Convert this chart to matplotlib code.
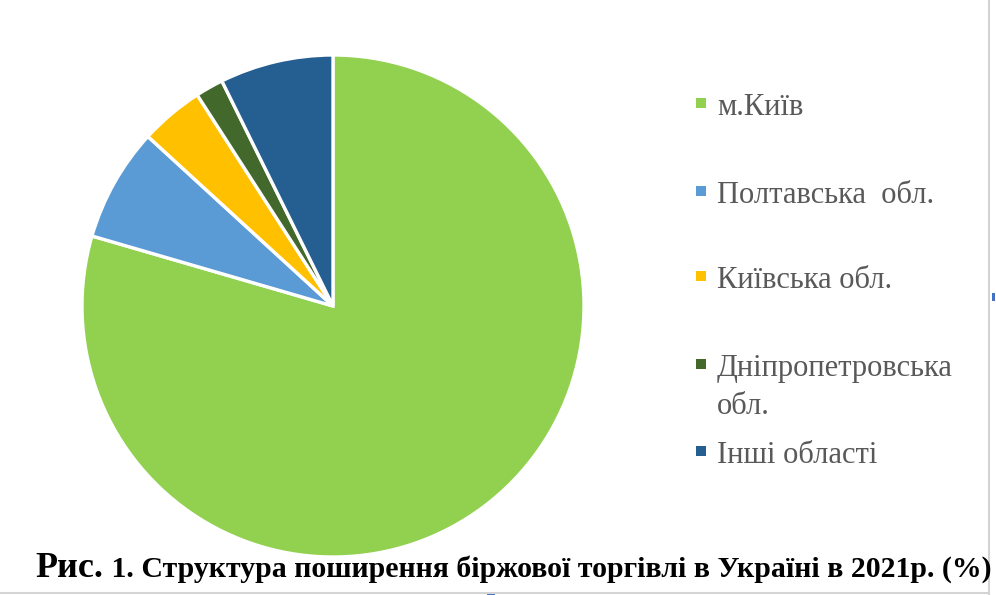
import matplotlib
matplotlib.use("Agg")
import matplotlib.pyplot as plt
from matplotlib.patches import Rectangle
from matplotlib.lines import Line2D

# ---- data ----
labels = ["м.Київ", "Полтавська  обл.", "Київська обл.", "Дніпропетровська\nобл.", "Інші області"]
values = [79.5, 7.3, 4.1, 1.8, 7.3]
colors = ["#92D050", "#5B9BD5", "#FFC000", "#43682B", "#255E91"]
title_a = "Рис."
title_b = " 1. Структура поширення біржової торгівлі в Україні в 2021р. (%)"

W, H = 996, 595
fig = plt.figure(figsize=(W / 100, H / 100), dpi=100)
fig.patch.set_facecolor("white")

# pie axes: center (333, 306) px, radius 251 px
cx, cy, r = 333, 306, 251
ax = fig.add_axes([(cx - r) / W, (H - cy - r) / H, 2 * r / W, 2 * r / H])
ax.pie(values, colors=colors, startangle=90, counterclock=False, radius=1,
       wedgeprops=dict(edgecolor="white", linewidth=2.4))
ax.set_xlim(-1, 1)
ax.set_ylim(-1, 1)
ax.set_aspect("equal")
ax.axis("off")

# legend (manual layout, Excel-like)
serif = ["Liberation Serif", "DejaVu Serif"]
baselines = [115, 203, 288, 376, 463]
line_step = 38
for lab, col, yb in zip(labels, colors, baselines):
    fig.patches.append(Rectangle((696 / W, (H - (yb - 12) - 5) / H), 10 / W, 10 / H,
                                 transform=fig.transFigure, facecolor=col, edgecolor="none"))
    for i, line in enumerate(lab.split("\n")):
        fig.text(717 / W, (H - yb - i * line_step) / H, line, family=serif, fontsize=22,
                 color="#595959", va="baseline", ha="left")

# title (bold serif), rest fitted to available width
ta = fig.text(35 / W, (H - 577) / H, title_a, family=serif, fontsize=26, weight="bold",
              color="black", va="baseline", ha="left")
fig.canvas.draw()
rend = fig.canvas.get_renderer()
x_end_a = ta.get_window_extent(rend).x1
tb = fig.text((x_end_a + 1) / W, (H - 577) / H, title_b, family=serif, fontsize=20,
              weight="bold", color="black", va="baseline", ha="left")
fig.canvas.draw()
wb = tb.get_window_extent(rend).width
tb.set_fontsize(20 * (993 - x_end_a - 1) / wb)

# frame artifacts (border lines of the screenshot)
fig.lines.append(Line2D([988.5 / W, 988.5 / W], [0, 1], transform=fig.transFigure,
                        color="#d4d4d4", linewidth=1.5))
fig.lines.append(Line2D([0, 988.5 / W], [2.5 / H, 2.5 / H], transform=fig.transFigure,
                        color="#d4d4d4", linewidth=1.5))
fig.patches.append(Rectangle((992 / W, (H - 301) / H), 3 / W, 8 / H, transform=fig.transFigure,
                             facecolor="#4472C4", edgecolor="none"))
fig.patches.append(Rectangle((487 / W, 0), 8 / W, 3 / H, transform=fig.transFigure,
                             facecolor="#4472C4", edgecolor="none"))

fig.savefig("out.png", dpi=100, facecolor="white")
